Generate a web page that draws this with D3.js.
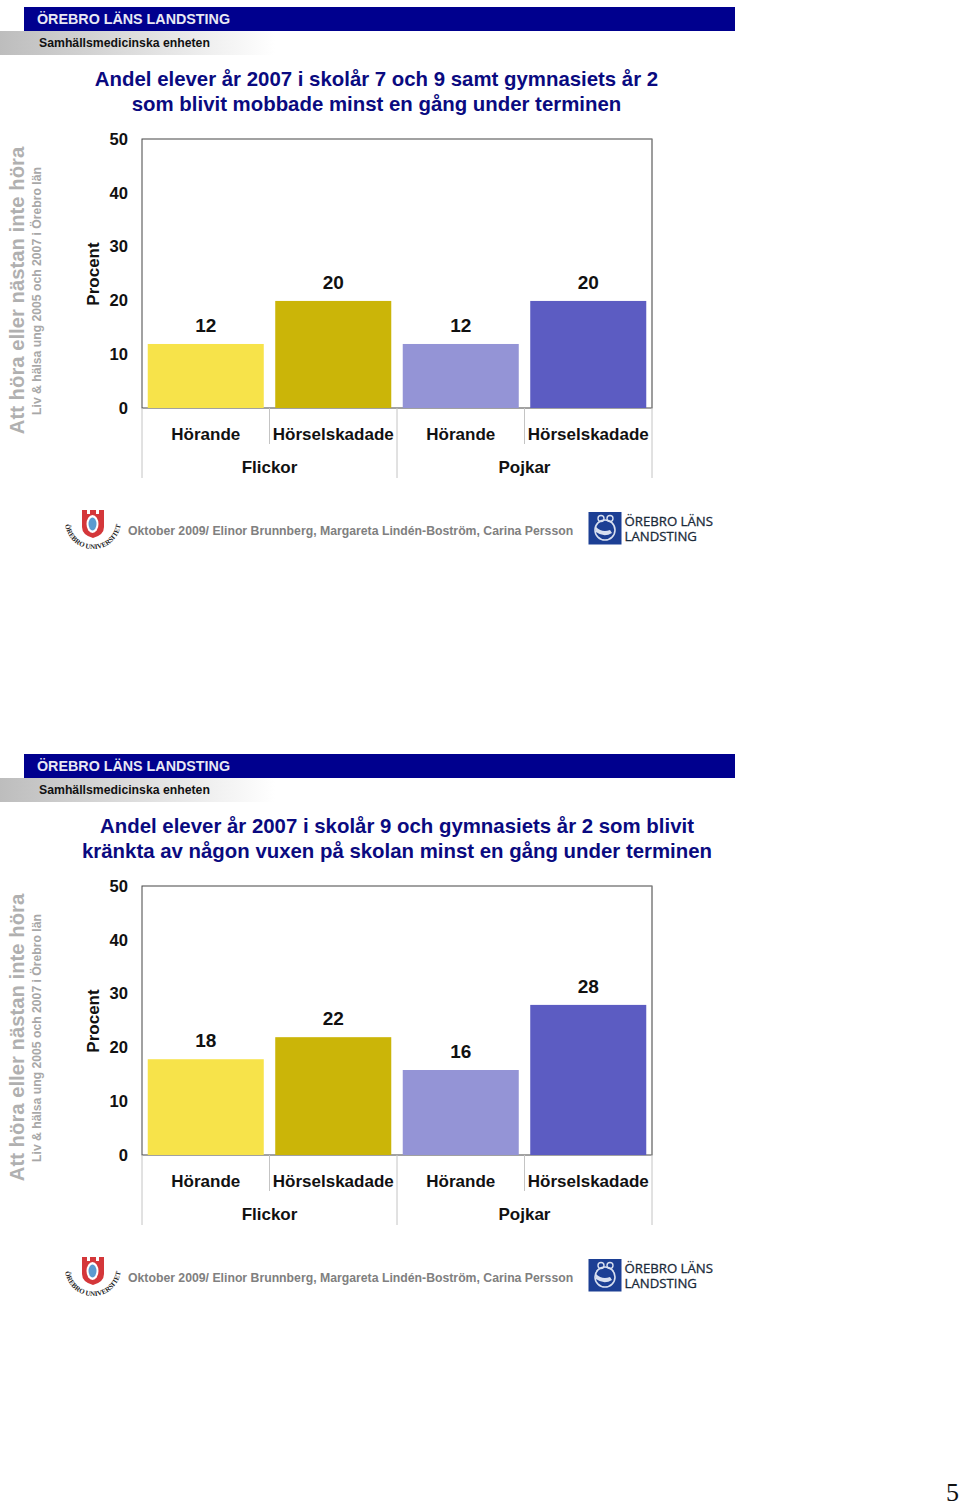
<!DOCTYPE html>
<html><head><meta charset="utf-8">
<script src="https://cdn.jsdelivr.net/npm/d3@7"></script>
<style>html,body{margin:0;padding:0;background:#fff}svg{display:block}text{font-family:"Liberation Sans",Arial,sans-serif;font-weight:bold}</style>
</head><body><div id="c"></div>
<script>
const categories = ["Hörande","Hörselskadade","Hörande","Hörselskadade"];
const groups = ["Flickor","Pojkar"];
const colors = ["#f7e34a","#cbb508","#9494d6","#5c5cc2"];
const ticks = [0,10,20,30,40,50];
const valuesA = [11.9,19.9,11.9,19.9];
const valuesB = [17.8,21.9,15.8,27.9];
const titleA = ["Andel elever år 2007 i skolår 7 och 9 samt gymnasiets år 2","som blivit mobbade minst en gång under terminen"];
const titleB = ["Andel elever år 2007 i skolår 9 och gymnasiets år 2 som blivit","kränkta av någon vuxen på skolan minst en gång under terminen"];
const footer = "Oktober 2009/ Elinor Brunnberg, Margareta Lindén-Boström, Carina Persson";

const svg = d3.select("#c").append("svg").attr("width",960).attr("height",1505);
const defs = svg.append("defs");
const g0 = defs.append("linearGradient").attr("id","grey");
g0.append("stop").attr("offset",0).attr("stop-color","#bdbdbd");
g0.append("stop").attr("offset",1).attr("stop-color","#ffffff");

function panel(oy,title,values,titleX){
  const g = svg.append("g").attr("transform",`translate(0,${oy})`);
  g.append("rect").attr("x",24).attr("y",7).attr("width",711).attr("height",24).attr("fill","#00008e");
  g.append("text").attr("x",37).attr("y",24).attr("fill","#e8e8f4").attr("font-size",14.3).text("ÖREBRO LÄNS LANDSTING");
  g.append("rect").attr("x",0).attr("y",31).attr("width",275).attr("height",24).attr("fill","url(#grey)");
  g.append("text").attr("x",39).attr("y",47).attr("fill","#111").attr("font-size",12.25).text("Samhällsmedicinska enheten");
  g.selectAll(".t").data(title).join("text").attr("x",titleX).attr("y",(d,i)=>86+i*25)
    .attr("text-anchor","middle").attr("fill","#0a0a80").attr("font-size",20.4).text(d=>d);
  g.append("g").attr("transform","translate(23.5,290.5) rotate(-90)").append("text").attr("text-anchor","middle").attr("fill","#b0b0b0").attr("font-size",20.3).text("Att höra eller nästan inte höra");
  g.append("g").attr("transform","translate(41,291) rotate(-90)").append("text").attr("text-anchor","middle").attr("fill","#a8a8a8").attr("font-size",12.2).text("Liv & hälsa ung 2005 och 2007 i Örebro län");
  g.append("g").attr("transform","translate(99,274) rotate(-90)").append("text").attr("text-anchor","middle").attr("fill","#111").attr("font-size",17).text("Procent");

  const x = d3.scaleBand().domain(d3.range(categories.length)).range([142,652]).paddingInner(0.09).paddingOuter(0.045);
  const y = d3.scaleLinear().domain([0,50]).range([408,139]);

  g.append("rect").attr("x",142).attr("y",139).attr("width",510).attr("height",269).attr("fill","none").attr("stroke","#444").attr("stroke-width",1);
  g.append("line").attr("x1",652).attr("x2",652).attr("y1",139).attr("y2",408).attr("stroke","#999");

  g.selectAll(".b").data(values).join("rect").attr("x",(d,i)=>x(i)).attr("y",d=>y(d)).attr("width",x.bandwidth()).attr("height",d=>y(0)-y(d)).attr("fill",(d,i)=>colors[i]);
  g.selectAll(".v").data(values).join("text").attr("x",(d,i)=>x(i)+x.bandwidth()/2).attr("y",d=>y(d)-12)
    .attr("text-anchor","middle").attr("fill","#111").attr("font-size",19).text(d=>d3.format(".0f")(d));

  const ax = g.append("g").attr("transform","translate(128,0)").call(d3.axisLeft(y).tickValues(ticks).tickSize(0).tickPadding(0));
  ax.select(".domain").remove();
  ax.selectAll("text").attr("fill","#111").attr("font-size",16.6).attr("font-family",'"Liberation Sans"').attr("font-weight","bold");

  const step = 510/categories.length;
  d3.range(categories.length+1).forEach(i=>{
    const long = i%2===0;
    g.append("line").attr("x1",142+i*step).attr("x2",142+i*step).attr("y1",408).attr("y2",long?478:444).attr("stroke","#c4c4c4").attr("stroke-width",1);
  });
  g.selectAll(".c").data(categories).join("text").attr("x",(d,i)=>142+(i+.5)*step).attr("y",439.5).attr("text-anchor","middle").attr("fill","#111").attr("font-size",17).text(d=>d);
  g.selectAll(".gr").data(groups).join("text").attr("x",(d,i)=>142+(i*2+1)*step).attr("y",472.5).attr("text-anchor","middle").attr("fill","#111").attr("font-size",17).text(d=>d);

  g.append("text").attr("x",128).attr("y",535).attr("fill","#808080").attr("font-size",12.26).text(footer);

  // Örebro universitet logo
  const lg = g.append("g");
  lg.append("path").attr("d","M82 510h5v4h3v-4h6v4h3v-4h5v17q0 8-11 11q-11-3-11-11z").attr("fill","#d4373a");
  lg.append("ellipse").attr("cx",92.5).attr("cy",524).attr("rx",6).attr("ry",9).attr("fill","#fff");
  lg.append("ellipse").attr("cx",92.5).attr("cy",524).attr("rx",4).attr("ry",6.5).attr("fill","#5a9bd0");
  defs.append("path").attr("id","arc"+oy).attr("d","M65 521A28 28 0 1 0 121 521");
  lg.append("text").attr("font-size",7)
    .attr("style",'font-family:"Liberation Serif";font-weight:bold').attr("fill","#222")
    .append("textPath").attr("href","#arc"+oy).attr("startOffset","50%").attr("text-anchor","middle").text("ÖREBRO UNIVERSITET");

  // Landsting logo
  const rg = g.append("g");
  rg.append("rect").attr("x",588.5).attr("y",512).attr("width",33).attr("height",32.5).attr("fill","#1c3f94");
  rg.append("circle").attr("cx",605).attr("cy",530).attr("r",10).attr("fill","none").attr("stroke","#d8e0f0").attr("stroke-width",1.6);
  rg.append("circle").attr("cx",601).attr("cy",518.5).attr("r",3).attr("fill","none").attr("stroke","#d8e0f0").attr("stroke-width",1.4);
  rg.append("circle").attr("cx",610).attr("cy",518.5).attr("r",3).attr("fill","none").attr("stroke","#d8e0f0").attr("stroke-width",1.4);
  rg.append("path").attr("d","M596 527q6 6 14 3l2 3q-8 5-16-1z").attr("fill","#d8e0f0");
  rg.selectAll(".l").data(["ÖREBRO LÄNS","LANDSTING"]).join("text").attr("x",624.5).attr("y",(d,i)=>526+i*15)
    .attr("style",'font-family:"Open Sans","Liberation Sans";font-weight:normal').attr("font-size",13.2).attr("fill","#1a2a3a").attr("stroke","#1a2a3a").attr("stroke-width",.3).text(d=>d);
}
panel(0,titleA,valuesA,376.5);
panel(747,titleB,valuesB,397);
svg.append("text").attr("x",946).attr("y",1501).attr("style",'font-family:"Liberation Serif";font-weight:normal').attr("font-size",26).attr("fill","#111").text("5");
</script></body></html>
